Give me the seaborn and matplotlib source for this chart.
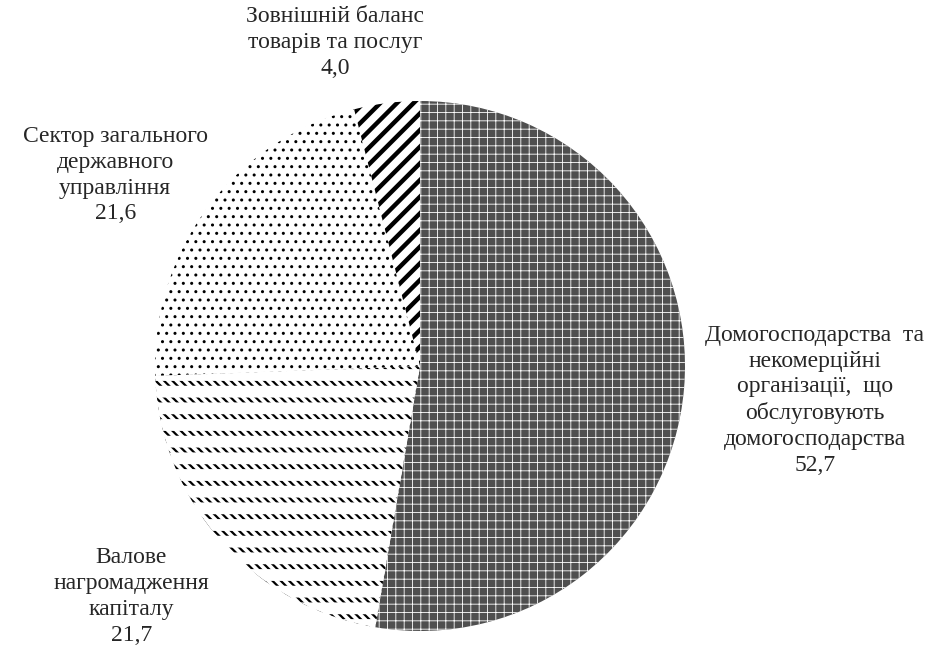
import matplotlib
matplotlib.use("Agg")
import matplotlib.pyplot as plt
import seaborn as sns

# Data
labels = [
    "Домогосподарства  та\nнекомерційні\nорганізації,  що\nобслуговують\nдомогосподарства\n52,7",
    "Валове\nнагромадження\nкапіталу\n21,7",
    "Сектор загального\nдержавного\nуправління\n21,6",
    "Зовнішній баланс\nтоварів та послуг\n4,0",
]
shares = [52.7, 21.7, 21.6, 4.0]
label_pos = [(1.49, -0.13), (-1.09, -0.87), (-1.15, 0.72), (-0.32, 1.22)]

face_colors = ["#4f4f4f", "white", "white", "white"]
hatch_colors = ["white", "black", "black", "black"]
hatches = ["++", "\\\\\\\\", "..", "//"]
hatch_widths = [0.6, 1.6, 1.0, 3.2]

sns.set_theme(style="white")
plt.rcParams["font.family"] = ["Liberation Serif", "DejaVu Serif"]

fig = plt.figure(figsize=(9.31, 6.53), dpi=100)
ax = fig.add_axes([155 / 931, 22 / 653, 530 / 931, 530 / 653])

wedges, _ = ax.pie(shares, startangle=90, counterclock=False,
                   colors=face_colors, wedgeprops=dict(linewidth=0))
for w, hc, h, lw in zip(wedges, hatch_colors, hatches, hatch_widths):
    w.set_edgecolor(hc)
    w.set_hatch(h)
    if hasattr(w, "set_hatch_linewidth"):
        w.set_hatch_linewidth(lw)

# white horizontal gaps that break the capital stripes into rows
over, _ = ax.pie(shares, startangle=90, counterclock=False,
                 colors=["none"] * 4, wedgeprops=dict(linewidth=0))
for i, w in enumerate(over):
    if i == 1:
        w.set_edgecolor("white")
        w.set_hatch("-")
        if hasattr(w, "set_hatch_linewidth"):
            w.set_hatch_linewidth(8.5)
    else:
        w.set_visible(False)

for lab, (x, y) in zip(labels, label_pos):
    ax.text(x, y, lab, ha="center", va="center", fontsize=17,
            linespacing=1.3, clip_on=False)

ax.set_xlim(-1, 1)
ax.set_ylim(-1, 1)
ax.set_aspect("equal")
ax.axis("off")

fig.savefig("out.png", dpi=100)
